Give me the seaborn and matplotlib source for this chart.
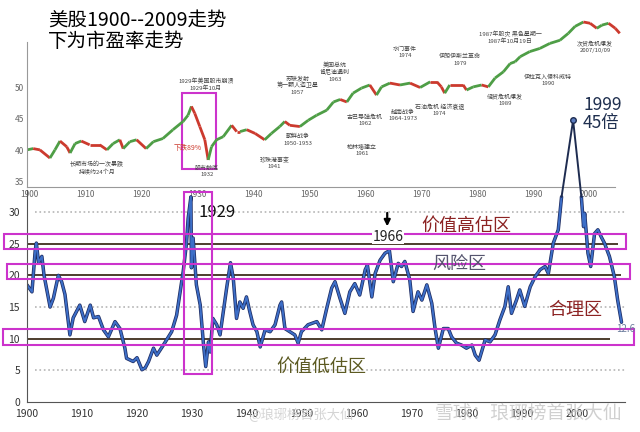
import numpy as np
import seaborn as sns
import matplotlib.pyplot as plt
import matplotlib.patheffects as pe
from matplotlib.collections import LineCollection
from matplotlib.patches import Rectangle

sns.set_style("white")
plt.rcParams['font.family'] = ['Noto Sans CJK SC', 'DejaVu Sans']

# top panel: index curve, in the units printed on its axis
idx_year = [1899.5, 1900.6, 1901.8, 1903.6, 1904.5, 1905.4, 1906.6, 1907.2, 1908.1, 1909.2,
            1910.7, 1912.5, 1913.8, 1914.9, 1916.1, 1916.7, 1917.9, 1919.1, 1920.8, 1922.1,
            1923.8, 1925.6, 1927.4, 1928.3, 1928.9, 1929.5, 1930.4, 1931.3, 1931.9, 1932.5,
            1933.4, 1934.6, 1936.1, 1937.0, 1937.6, 1938.8, 1940.3, 1942.0, 1943.2, 1944.7,
            1945.6, 1946.5, 1948.3, 1949.8, 1951.3, 1953.1, 1954.3, 1955.5, 1956.7, 1957.8,
            1959.3, 1960.8, 1962.0, 1962.9, 1964.4, 1966.2, 1968.0, 1969.8, 1971.6, 1972.8,
            1973.6, 1974.2, 1975.1, 1977.5, 1978.1, 1979.3, 1980.8, 1982.0, 1983.2, 1984.7,
            1985.9, 1986.8, 1987.7, 1989.4, 1991.2, 1993.0, 1994.8, 1996.3, 1997.5, 1999.0,
            2000.2, 2001.4, 2002.3, 2003.5, 2004.7, 2005.5]
idx_val = [40.1, 40.3, 40.1, 38.8, 40.1, 41.5, 40.6, 39.6, 41.1, 41.5,
           40.9, 40.9, 40.1, 41.1, 41.7, 40.3, 41.4, 41.7, 40.3, 41.4,
           41.9, 43.3, 44.6, 45.6, 47.0, 45.9, 43.8, 41.7, 38.5, 40.6,
           41.7, 42.2, 44.0, 43.0, 43.0, 43.3, 42.7, 41.7, 42.7, 43.8,
           44.6, 44.0, 43.8, 44.8, 45.6, 46.4, 47.7, 48.1, 47.7, 49.1,
           49.9, 50.4, 48.8, 50.1, 50.7, 50.4, 50.7, 50.0, 50.9, 50.9,
           50.1, 49.1, 50.4, 50.4, 49.6, 50.1, 50.4, 50.1, 51.5, 52.5,
           53.8, 54.1, 54.9, 55.7, 56.2, 57.0, 57.5, 58.6, 59.7, 60.4,
           60.2, 59.4, 59.9, 60.2, 59.4, 58.6]

# bottom panel: P/E ratio
pe_year = [1900.0, 1900.9, 1901.5, 1901.7, 1902.1, 1902.7, 1903.1, 1904.2, 1904.8, 1905.7,
           1906.3, 1906.9, 1907.8, 1908.4, 1909.6, 1910.5, 1911.5, 1912.1, 1913.0, 1913.9,
           1914.8, 1916.0, 1916.9, 1917.8, 1918.1, 1919.3, 1920.0, 1920.9, 1921.5, 1922.1,
           1923.0, 1923.6, 1924.8, 1926.3, 1927.2, 1928.4, 1929.0, 1929.3, 1929.8, 1929.9,
           1930.2, 1930.8, 1931.5, 1932.1, 1932.5, 1933.0, 1933.3, 1933.8, 1934.5, 1935.1,
           1936.3, 1937.0, 1937.5, 1938.1, 1938.7, 1939.3, 1939.9, 1940.5, 1941.1, 1941.8,
           1942.4, 1943.3, 1944.2, 1945.1, 1946.0, 1946.3, 1946.9, 1947.8, 1948.7, 1949.3,
           1949.9, 1951.1, 1952.7, 1953.6, 1954.5, 1955.4, 1956.0, 1956.9, 1957.8, 1958.7,
           1959.6, 1960.5, 1961.5, 1961.9, 1962.7, 1963.3, 1964.2, 1965.1, 1965.9, 1966.6,
           1967.5, 1968.1, 1968.7, 1969.6, 1970.2, 1971.1, 1971.8, 1972.7, 1973.6, 1974.2,
           1974.8, 1975.7, 1976.6, 1977.2, 1978.1, 1979.0, 1979.9, 1980.9, 1981.5, 1982.2,
           1983.3, 1984.2, 1985.1, 1986.0, 1986.9, 1987.5, 1988.1, 1989.0, 1989.6, 1990.5,
           1991.5, 1992.4, 1993.3, 1994.2, 1994.8, 1995.7, 1996.6, 1997.2, 1999.3, 2000.8,
           2001.2, 2001.4, 2002.0, 2002.5, 2003.2, 2003.8, 2004.4, 2005.0, 2005.9, 2006.8,
           2007.4, 2008.1]
pe_val = [18.5, 17.4, 24.0, 25.1, 22.0, 23.0, 20.0, 15.0, 16.4, 20.0,
          19.0, 17.0, 10.6, 13.3, 15.3, 12.7, 15.3, 13.3, 13.5, 11.4,
          10.3, 12.7, 11.6, 8.5, 6.9, 6.4, 7.0, 5.1, 5.4, 6.4,
          8.5, 7.4, 9.0, 11.1, 13.7, 20.6, 25.1, 29.0, 32.4, 21.2,
          25.9, 18.5, 15.3, 9.0, 5.6, 9.5, 7.9, 13.2, 12.2, 10.6,
          18.0, 22.0, 19.6, 13.2, 15.8, 14.8, 16.6, 14.3, 12.2, 11.1,
          8.7, 11.4, 11.1, 12.2, 15.3, 15.8, 11.6, 11.1, 10.6, 9.3,
          11.1, 12.2, 12.7, 11.4, 14.8, 18.0, 19.0, 16.4, 14.0, 17.4,
          18.7, 16.9, 20.9, 21.6, 16.6, 20.3, 22.4, 23.5, 23.9, 19.0,
          21.9, 21.4, 22.2, 19.3, 14.3, 17.4, 16.1, 18.5, 15.6, 11.6,
          8.5, 11.6, 11.6, 10.3, 9.3, 9.0, 8.5, 9.0, 7.4, 6.6,
          9.8, 9.5, 10.6, 13.0, 15.1, 18.2, 14.0, 16.1, 17.7, 15.1,
          18.2, 19.8, 20.9, 21.4, 20.3, 25.1, 27.2, 32.4, 44.5, 32.4,
          27.7, 29.8, 23.5, 21.4, 26.6, 27.2, 26.1, 25.1, 23.0, 19.8,
          16.1, 12.6]

decades = list(range(1900, 2001, 10))
pe_ticks = [0, 5, 10, 15, 20, 25, 30]
idx_ticks = [35, 40, 45, 50]

zone_lines = [25, 20, 10]
grid_lines = [5, 15, 30]
# magenta boxes: (x0, x1, y0, y1)
bands = [(1895.8, 2009.0, 24.1, 26.5),
         (1896.3, 2009.6, 19.4, 21.75),
         (1895.7, 2010.4, 9.05, 11.5)]
box_1929 = (1928.6, 1933.6, 4.4, 33.2)
box_1929_top = (1927.2, 1933.3, 37.1, 49.1)

zone_labels = [("价值高估区", 1979.9, 27.8, '#8c2323'),
               ("风险区", 1978.6, 21.8, '#55556e'),
               ("合理区", 1999.7, 14.5, '#8c2323'),
               ("价值低估区", 1953.5, 5.5, '#5c5a22')]

events = [("长期市场的一次暴跌\n持续约24个月", 1912.0, 37.2),
          ("1929年美国股市崩溃\n1929年10月", 1931.5, 50.4),
          ("股市触底\n1932", 1931.7, 36.7),
          ("珍珠港事变\n1941", 1943.8, 38.0),
          ("苏联发射\n第一颗人造卫星\n1957", 1947.9, 50.4),
          ("朝鲜战争\n1950-1953", 1947.9, 41.7),
          ("美国总统\n肯尼迪遇刺\n1963", 1954.6, 52.5),
          ("古巴导弹危机\n1962", 1959.9, 44.8),
          ("柏林墙建立\n1961", 1959.4, 40.1),
          ("越南战争\n1964-1973", 1966.7, 45.6),
          ("水门事件\n1974", 1967.1, 55.6),
          ("伊朗伊斯兰革命\n1979", 1976.9, 54.4),
          ("石油危机 经济衰退\n1974", 1973.3, 46.4),
          ("储贷危机爆发\n1989", 1985.0, 48.0),
          ("1987年股灾 黑色星期一\n1987年10月19日", 1985.9, 58.0),
          ("伊拉克入侵科威特\n1990", 1992.7, 51.2),
          ("次贷危机爆发\n2007/10/09", 2001.1, 56.4)]

fig = plt.figure(figsize=(6.4, 4.32), dpi=100)
ax_top = fig.add_axes([0.0422, 0.5671, 0.9375, 0.398])
ax = fig.add_axes([0.0422, 0.0694, 0.9375, 0.664])
ax.set_zorder(3)
for a in (ax_top, ax):
    a.patch.set_visible(False)
    a.spines['top'].set_visible(False)
    a.spines['right'].set_visible(False)

# ---- top panel
pts = np.column_stack([idx_year, idx_val])
segs = np.stack([pts[:-1], pts[1:]], axis=1)
cols = ['#4e9e46' if b > a else '#cc3a2e' for a, b in zip(idx_val[:-1], idx_val[1:])]
ax_top.add_collection(LineCollection(segs, colors=cols, linewidths=2.0))
ax_top.set_xlim(1899.5, 2006.8)
ax_top.set_ylim(34.2, 61.5)
ax_top.spines['left'].set_bounds(34.2, 57.2)
ax_top.spines['bottom'].set_bounds(1899.5, 2004.6)
for s in ('left', 'bottom'):
    ax_top.spines[s].set_color('#999999')
ax_top.set_xticks(decades)
ax_top.set_yticks(idx_ticks)
ax_top.tick_params(length=0, labelsize=6, labelcolor='#666666', pad=2)
for txt, x, y in events:
    ax_top.text(x, y, txt, fontsize=4.3, color='#444444', ha='center', va='center', linespacing=1.3)
ax_top.text(1928.3, 40.4, "下跌89%", fontsize=5, color='#cc3a2e', ha='center', va='center')
x0, x1, y0, y1 = box_1929_top
ax_top.add_patch(Rectangle((x0, y0), x1 - x0, y1 - y0, fill=False, ec='#cc33cc', lw=1.5))

# ---- bottom panel: P/E
i0 = pe_year.index(1997.2)
i2 = pe_year.index(2000.8)
stroke = [pe.Stroke(linewidth=2.5, foreground='#1e2c62'), pe.Normal()]
sns.lineplot(x=pe_year[:i0 + 1], y=pe_val[:i0 + 1], sort=False, estimator=None,
             color='#3d6fc8', lw=1.4, path_effects=stroke, ax=ax)
sns.lineplot(x=pe_year[i2:], y=pe_val[i2:], sort=False, estimator=None,
             color='#3d6fc8', lw=1.4, path_effects=stroke, ax=ax)
sns.lineplot(x=pe_year[i0:i2 + 1], y=pe_val[i0:i2 + 1], sort=False, estimator=None,
             color='#1e2c50', lw=1.4, ax=ax)
ax.plot(pe_year[i0 + 1], pe_val[i0 + 1], 'o', ms=4, mfc='#5a7cc0', mec='#1e2c50', mew=1)

ax.hlines(grid_lines, 1901.5, 2009, colors='#b5b5b5', linestyles=':', lw=1.2, zorder=1)
ax.hlines(zone_lines, 1900, [2007.4, 2008.0, 2006.0], colors='#4d3d2d', lw=1.4, zorder=1)
for x0, x1, y0, y1 in bands + [box_1929]:
    ax.add_patch(Rectangle((x0, y0), x1 - x0, y1 - y0, fill=False, ec='#cc33cc',
                           lw=1.5, clip_on=False, zorder=4))

ax.set_xlim(1900, 2009.1)
ax.set_ylim(0, 45.3)
ax.spines['left'].set_bounds(0, 33.5)
ax.spines['bottom'].set_bounds(1900, 2008.7)
for s in ('left', 'bottom'):
    ax.spines[s].set_color('#555555')
ax.set_xticks(decades)
ax.set_yticks(pe_ticks)
ax.tick_params(axis='both', length=3, width=0.8, color='#555555', labelsize=7.5,
               labelcolor='#333333', pad=2)
ax.set_xlabel('')
ax.set_ylabel('')

ax.text(1931.1, 30.0, "1929", fontsize=12, color='#111111', ha='left', va='center')
ax.annotate("", xy=(1965.5, 27.3), xytext=(1965.5, 30.3),
            arrowprops=dict(arrowstyle='-|>', color='black', lw=1.6, mutation_scale=9))
ax.text(1965.6, 26.1, "1966", fontsize=10, color='#222222', ha='center', va='center',
        bbox=dict(boxstyle='square,pad=0.05', fc='white', ec='none'), zorder=5)
for txt, x, y, c in zone_labels:
    ax.text(x, y, txt, fontsize=13, color=c, ha='center', va='center', zorder=6)
ax.text(2008.9, 11.5, "12.6", fontsize=7, color='#6a7c9c', ha='center', va='center', zorder=6)
ax.text(2001.1, 45.5, "1999\n45倍", fontsize=12.5, color='#1f2f4f', ha='left', va='center',
        linespacing=0.95, zorder=6)

fig.text(0.075, 0.977, "美股1900--2009走势\n下为市盈率走势", fontsize=14, color='black',
         ha='left', va='top', linespacing=1.0)

# watermarks
fig.text(0.47, 0.04, "@琅琊榜首张大仙", fontsize=9.5, color='#cdcdcd', ha='center', va='center', alpha=0.85)
fig.text(0.825, 0.045, "雪球：琅琊榜首张大仙", fontsize=13.5, color='#c8c8c8', ha='center', va='center', alpha=0.85)

plt.savefig("out.png", dpi=100)
